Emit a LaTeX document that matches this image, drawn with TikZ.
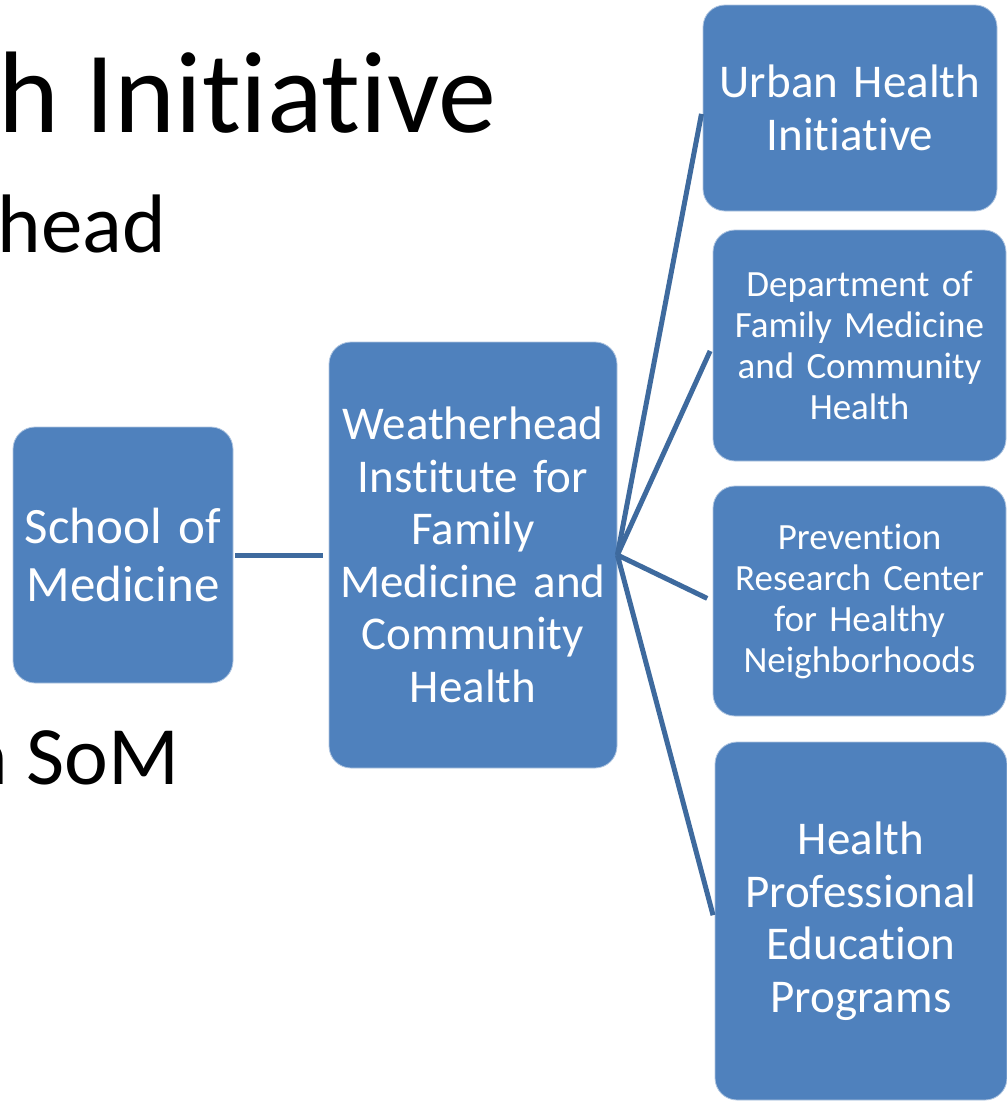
\documentclass[tikz,border=0pt]{standalone}
\usepackage{fontspec}
\setmainfont{Carlito}[Ligatures={NoCommon}]
\definecolor{boxblue}{RGB}{79,129,189}
\definecolor{linkblue}{RGB}{62,106,158}
\tikzset{
  orgbox/.style={draw=white!55!boxblue, line width=0.8pt, fill=boxblue, rounded corners=22pt,
    text=white, align=center, inner sep=0pt},
  bigtxt/.style={font=\fontsize{47}{52.5}\selectfont},
  midtxt/.style={font=\fontsize{37}{41}\selectfont},
  link/.style={draw=linkblue, line width=5pt},
  bgtxt/.style={anchor=base west, inner sep=0pt, text=black}
}
\begin{document}
\begin{tikzpicture}[x=1pt,y=-1pt]
\useasboundingbox (0,0) rectangle (1007,1101);
\clip (0,0) rectangle (1007,1101);
\fill[white] (0,0) rectangle (1007,1101);
% background slide text
\node[bgtxt, font=\fontsize{116}{130}\selectfont] (t1) at (-2,132) {h Initiative};
\node[bgtxt, font=\fontsize{83}{96}\selectfont] (t2) at (-2.5,252) {head};
\node[bgtxt, font=\fontsize{83}{96}\selectfont] (t3) at (-36,784) {n SoM};
% boxes
\node[orgbox, minimum width=220pt, minimum height=256pt, font=\fontsize{51}{58}\selectfont, text width=216pt] (som) at (123,555) {School of\\Medicine};
\node[orgbox, bigtxt, minimum width=288pt, minimum height=426pt, text width=284pt] (wi) at (473,555) {Weatherhead\\Institute for\\Family\\Medicine and\\Community\\Health};
\node[orgbox, bigtxt, minimum width=294pt, minimum height=206pt, text width=290pt] (uhi) at (850,108) {Urban Health\\Initiative};
\node[orgbox, midtxt, minimum width=293pt, minimum height=231pt, text width=289pt] (dfm) at (859.5,345.5) {Department of\\Family Medicine\\and Community\\Health};
\node[orgbox, midtxt, minimum width=293pt, minimum height=230pt, text width=289pt] (prc) at (859.5,601) {Prevention\\Research Center\\for Healthy\\Neighborhoods};
\node[orgbox, bigtxt, minimum width=292pt, minimum height=358pt, text width=288pt] (hpe) at (861,921) {Health\\Professional\\Education\\Programs};
% connectors
\draw[link, shorten <=2pt, shorten >=6pt] (som.east) -- (wi.west);
\draw[link, shorten >=6pt] (wi.east) -- (uhi.west);
\draw[link, shorten >=6pt] (wi.east) -- (dfm.west);
\draw[link, shorten >=6pt] (wi.east) -- (prc.west);
\draw[link, shorten >=6pt] (wi.east) -- (hpe.west);
\end{tikzpicture}
\end{document}
